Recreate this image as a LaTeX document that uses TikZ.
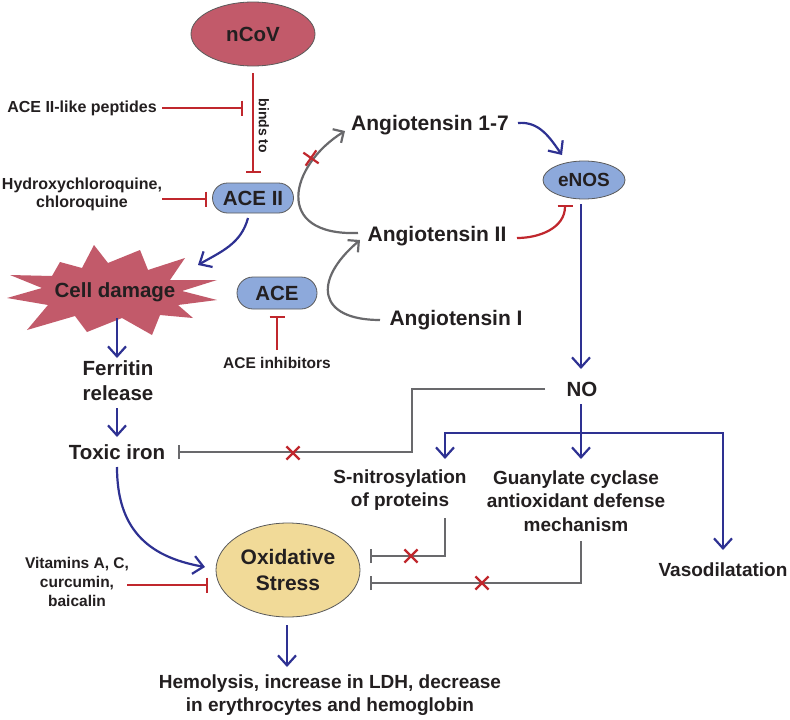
\documentclass[tikz,border=0pt]{standalone}
\usepackage{fontspec}
\setmainfont{Liberation Sans}
\usetikzlibrary{arrows.meta,shapes.geometric,shapes.misc,calc}
\definecolor{navy}{RGB}{46,49,146}
\definecolor{ired}{RGB}{192,39,45}
\definecolor{lgray}{RGB}{105,105,108}
\definecolor{bgray}{RGB}{90,90,90}
\definecolor{pinkred}{RGB}{194,90,106}
\definecolor{lblue}{RGB}{141,169,219}
\definecolor{oxtan}{RGB}{241,218,152}
\definecolor{txt}{RGB}{35,31,32}
\begin{document}
\begin{tikzpicture}[x=1pt,y=1pt,
  every node/.style={text=txt},
  big/.style={font=\bfseries\fontsize{20.5}{25}\selectfont, align=center, inner sep=0pt},
  ang/.style={font=\bfseries\fontsize{21}{25}\selectfont, inner sep=0pt},
  med/.style={font=\bfseries\fontsize{19}{23.5}\selectfont, align=center, inner sep=0pt},
  sml/.style={font=\bfseries\fontsize{16}{18}\selectfont, align=center, inner sep=0pt},
  xsml/.style={font=\bfseries\fontsize{15.5}{19}\selectfont, align=center, inner sep=0pt},
  pill/.style={rounded rectangle, draw=bgray, line width=0.8pt, fill=lblue, inner sep=0pt},
  act/.style={draw=navy, line width=2.2pt, -{Straight Barb[length=10pt,width=18pt]}},
  inh/.style={draw=ired, line width=2.2pt, -{Bar[width=15pt]}},
  ginh/.style={draw=lgray, line width=2.2pt, -{Bar[width=14pt]}},
  conv/.style={draw=lgray, line width=2.2pt, -{Straight Barb[length=8pt,width=16pt]}},
  xmark/.style={cross out, draw=ired, line width=2.2pt, minimum size=11pt, inner sep=0pt}
]
\fill[white] (0,0) rectangle (790,-720);
\useasboundingbox (0,0) rectangle (790,-720);

% star shape for cell damage
\fill[pinkred] (94,-245) -- (108,-263) -- (140,-250) -- (148,-270) -- (185,-258) -- (170,-280)
  -- (217,-280) -- (182,-291) -- (217,-300) -- (178,-305) -- (193,-318) -- (160,-315)
  -- (152,-335) -- (122,-318) -- (87,-332) -- (75,-316) -- (27,-330) -- (48,-305)
  -- (7,-298) -- (42,-288) -- (10,-275) -- (52,-276) -- (60,-262) -- (82,-268) -- cycle;

% nodes
\node[ellipse, draw=bgray, line width=0.8pt, fill=pinkred, minimum width=124pt, minimum height=64pt, big] (ncov) at (253,-34) {nCoV};
\node[pill, big, minimum width=81pt, minimum height=30pt] (ace2) at (253,-198) {ACE II};
\node[sml] (pep) at (82,-108) {ACE II-like peptides};
\node[sml] (hcq) at (82,-194) {Hydroxychloroquine,\\chloroquine};
\node[rotate=-90, font=\bfseries\fontsize{14}{16}\selectfont, inner sep=0pt] (binds) at (264,-126) {binds to};
\node[big] (cd) at (115,-292) {Cell damage};
\node[big] (ferr) at (118,-381) {Ferritin\\release};
\node[big] (toxic) at (117,-452) {Toxic iron};
\node[ellipse, draw=bgray, line width=0.8pt, fill=oxtan, minimum width=144pt, minimum height=94pt, ang, align=center, font=\bfseries\fontsize{21}{26}\selectfont] (oxs) at (288,-570) {Oxidative\\Stress};
\node[xsml] (vit) at (77,-582) {Vitamins A, C,\\curcumin,\\baicalin};
\node[med] (hemo) at (330,-695) {Hemolysis, increase in LDH, decrease\\in erythrocytes and hemoglobin};
\node[ang] (ang17) at (430,-125) {Angiotensin 1-7};
\node[ang] (ang2) at (437,-236) {Angiotensin II};
\node[ang] (ang1) at (456,-320) {Angiotensin I};
\node[pill, big, minimum width=80pt, minimum height=32pt] (ace) at (277,-293) {ACE};
\node[xsml] (acei) at (277,-363) {ACE inhibitors};
\node[ellipse, draw=bgray, line width=0.8pt, fill=lblue, minimum width=82pt, minimum height=38pt, inner sep=0pt, font=\bfseries\fontsize{19}{22}\selectfont] (enos) at (584,-180) {eNOS};
\node[big] (no) at (582,-389) {NO};
\node[med] (snit) at (400,-490) {S-nitrosylation\\of proteins};
\node[med] (guan) at (576,-501) {Guanylate cyclase\\antioxidant defense\\mechanism};
\node[med] (vaso) at (723,-570) {Vasodilatation};

% connectors
\draw[inh] ($(ncov.center)+(0,-39)$) -- ($(ace2.center)+(0,25)$);
\coordinate (pepT) at ($(ncov.center)+(-10,-74)$);
\draw[inh] ($(pep.center)+(80,0)$) -- (pepT);
\draw[inh] ($(hcq.center)+(80,-5)$) -- ($(ace2.center)+(-46,-1)$);
\draw[act] ($(ace2.center)+(-5,-20)$) to[out=-105,in=30] ($(cd.center)+(83,27)$);
\draw[act] ($(cd.center)+(2,-26)$) -- ($(ferr.center)+(-1,23)$);
\draw[act] ($(ferr.center)+(-1,-27)$) -- ($(toxic.center)+(0,15)$);
\draw[act] ($(toxic.center)+(0,-15)$) to[out=-90,in=170,looseness=1.15] ($(oxs.center)+(-83,3)$);
\draw[inh] ($(vit.center)+(50,-3)$) -- ($(oxs.center)+(-80,-15)$);
\draw[act] ($(oxs.center)+(-1,-55)$) -- ($(hemo.center)+(-43,28)$);
\draw[inh] ($(acei.center)+(0,13)$) -- ($(ace.center)+(0,-23)$);

\draw[conv] ($(ang1.center)+(-76,0)$) .. controls (318,-320) and (312,-281) .. ($(ang2.center)+(-77,-4)$);
\draw[conv] ($(ang2.center)+(-79,3)$) .. controls (272,-236) and (290,-165) .. ($(ang17.center)+(-85,-6)$);
\node[xmark, rotate=10] (x1) at (311,-158) {};

\draw[act] ($(ang17.center)+(88,2)$) to[out=5,in=125] ($(enos.center)+(-22,25)$);
\draw[inh] ($(ang2.center)+(80,-2)$) to[out=0,in=-90] ($(enos.center)+(-19,-25)$);
\draw[act] ($(enos.center)+(-3,-24)$) -- ($(no.center)+(-1,20)$);

\coordinate (br) at ($(no.center)+(-1,-44)$);
\draw[act] ($(no.center)+(-1,-15)$) -- ($(guan.center)+(5,42)$);
\draw[act, {Straight Barb[length=10pt,width=18pt]}-{Straight Barb[length=10pt,width=18pt]}] ($(snit.center)+(45,31)$) |- (br) -| ($(vaso.center)+(0,20)$);

\draw[ginh] ($(no.center)+(-37,0)$) -- ++(-133,0) |- ($(toxic.center)+(61,0)$);
\node[xmark] (x2) at (293,-453) {};
\draw[ginh] ($(snit.center)+(45,-28)$) |- ($(oxs.center)+(82,14)$);
\node[xmark] (x3) at (411,-556) {};
\draw[ginh] ($(guan.center)+(5,-40)$) |- ($(oxs.center)+(82,-13)$);
\node[xmark] (x4) at (482,-583) {};
\end{tikzpicture}
\end{document}
